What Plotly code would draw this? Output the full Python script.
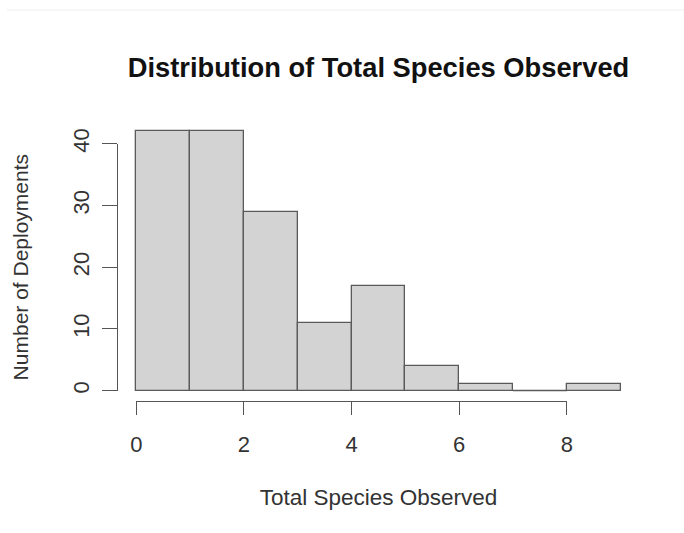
import plotly.graph_objects as go

# Histogram bins (breaks at integers) and counts per bin
bin_left = [0, 1, 2, 3, 4, 5, 6, 7, 8]
counts = [42, 42, 29, 11, 17, 4, 1, 0, 1]
x_ticks = [0, 2, 4, 6, 8]
y_ticks = [0, 10, 20, 30, 40]

bin_width = 1
centers = [b + bin_width / 2 for b in bin_left]

# R-style plot region: data range padded by 4% on each side
x_lo, x_hi = bin_left[0], bin_left[-1] + bin_width
y_lo, y_hi = 0, max(counts)
xpad = 0.04 * (x_hi - x_lo)
ypad = 0.04 * (y_hi - y_lo)
xr = [x_lo - xpad, x_hi + xpad]
yr = [y_lo - ypad, y_hi + ypad]
xspan = xr[1] - xr[0]
yspan = yr[1] - yr[0]

axis_col = "#555555"
bar_edge = "#5a5a5a"
text_col = "#333333"
font = "Liberation Sans, Arial, sans-serif"

fig = go.Figure()
fig.add_trace(go.Bar(
    x=centers, y=counts, width=bin_width,
    marker=dict(color="#D3D3D3", line=dict(color=bar_edge, width=1.3)),
    hoverinfo="skip",
))

# Empty bins still get a flat outline along the baseline
zx, zy = [], []
for b, c in zip(bin_left, counts):
    if c == 0:
        zx += [b, b + bin_width, None]
        zy += [0, 0, None]
if zx:
    fig.add_trace(go.Scatter(x=zx, y=zy, mode="lines",
                             line=dict(color=bar_edge, width=1.3),
                             hoverinfo="skip"))

# Axis lines that run only between the first and last tick, like base R
xd = [(x_ticks[0] - xr[0]) / xspan, (x_ticks[-1] - xr[0]) / xspan]
yd = [(y_ticks[0] - yr[0]) / yspan, (y_ticks[-1] - yr[0]) / yspan]
fig.add_trace(go.Scatter(x=[], y=[], xaxis="x2", yaxis="y2",
                         mode="markers", hoverinfo="skip"))

fig.update_layout(
    width=684, height=533,
    margin=dict(l=117, r=44, t=121, b=132),
    paper_bgcolor="white", plot_bgcolor="rgba(0,0,0,0)",
    showlegend=False, bargap=0,
    font=dict(family=font, color=text_col, size=22),
    title=dict(
        text="<b>Distribution of Total Species Observed</b>",
        x=0.5, xanchor="center", xref="paper",
        y=1 - 67 / 533, yanchor="middle",
        font=dict(family=font, size=27.3, color="#111111"),
    ),
    # The main x axis only carries the title, centred on the plot region
    xaxis=dict(
        range=xr, fixedrange=True, showline=False, showgrid=False,
        zeroline=False, showticklabels=False, ticks="",
        title=dict(text="Total Species Observed", standoff=88,
                   font=dict(size=22.5, color=text_col)),
    ),
    yaxis=dict(range=yr, visible=False, fixedrange=True),
    xaxis2=dict(
        range=[x_ticks[0], x_ticks[-1]], domain=xd,
        anchor="free", position=0, fixedrange=True,
        tickvals=x_ticks, ticktext=[str(v) for v in x_ticks],
        ticks="outside", ticklen=13, tickwidth=1.2, tickcolor=axis_col,
        ticklabelstandoff=10,
        showline=True, linecolor=axis_col, linewidth=1.2,
        showgrid=False, zeroline=False,
        tickfont=dict(size=22, color=text_col),
    ),
    yaxis2=dict(
        range=[y_ticks[0], y_ticks[-1]], domain=yd,
        anchor="free", position=0, fixedrange=True,
        tickvals=y_ticks, ticktext=[str(v) for v in y_ticks],
        tickangle=-90,
        ticks="outside", ticklen=15, tickwidth=1.2, tickcolor=axis_col,
        ticklabelstandoff=4,
        showline=True, linecolor=axis_col, linewidth=1.2,
        showgrid=False, zeroline=False,
        tickfont=dict(size=22, color=text_col),
        title=dict(text="Number of Deployments", standoff=33,
                   font=dict(size=21, color=text_col)),
    ),
    shapes=[dict(type="line", xref="paper", yref="paper",
                 x0=-110 / 523, x1=1 + 44 / 523,
                 y0=1 + (121 - 10) / 280, y1=1 + (121 - 10) / 280,
                 line=dict(color="#eeeeee", width=1))],
)

fig.write_html("out.html")
